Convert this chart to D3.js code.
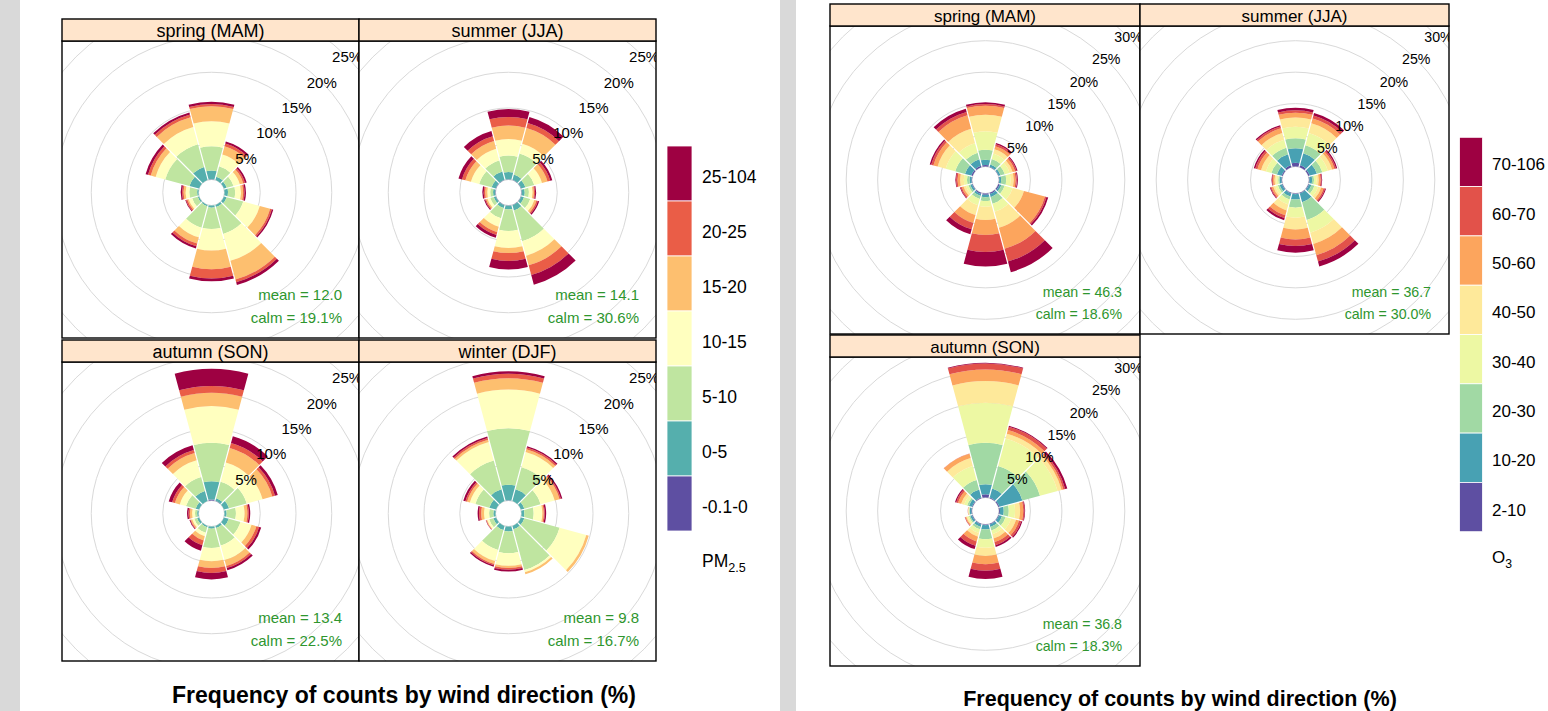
<!DOCTYPE html>
<html>
<head>
<meta charset="utf-8">
<script src="https://cdn.jsdelivr.net/npm/d3@7"></script>
<style>
  body { margin: 0; background: #fff; }
  svg { display: block; font-family: "Liberation Sans", Arial, sans-serif; }
</style>
</head>
<body>
<svg id="chart" width="1548" height="711"></svg>
<script>
// wind direction sectors (degrees, clockwise from north)
const directions = [0, 30, 60, 90, 120, 150, 180, 210, 240, 270, 300, 330];

const pmBins = ['-0.1-0', '0-5', '5-10', '10-15', '15-20', '20-25', '25-104'];
const o3Bins = ['2-10', '10-20', '20-30', '30-40', '40-50', '50-60', '60-70', '70-106'];
const pmColors = ['#5E4FA2', '#55AFAD', '#BFE5A0', '#FFFFBF', '#FDBF6F', '#EA5D47', '#9E0142'];
const o3Colors = ['#5E4FA2', '#48A1B3', '#A1D9A4', '#EDF8A3', '#FEE99A', '#FCA55D', '#E2524A', '#9E0142'];

const pmSeasons = ['spring (MAM)', 'summer (JJA)', 'autumn (SON)', 'winter (DJF)'];
const pmMeans = ['12.0', '14.1', '13.4', '9.8'];
const pmCalms = ['19.1', '30.6', '22.5', '16.7'];
const o3Seasons = ['spring (MAM)', 'summer (JJA)', 'autumn (SON)'];
const o3Means = ['46.3', '36.7', '36.8'];
const o3Calms = ['18.6', '30.0', '18.3'];

const pmGrid = [5, 10, 15, 20, 25, 30, 35];
const o3Grid = [5, 10, 15, 20, 25, 30, 35, 40];

// frequency (%) per direction, one value per concentration bin (low -> high)
const pmSpring = [
  [0.05, 1.2, 3.4, 3.5, 2.1, 0.3, 0.3],
  [0, 0.5, 1.5, 1.7, 1.2, 0.4, 0.3],
  [0, 0.4, 1.0, 0.9, 0.5, 0.25, 0.25],
  [0, 0.5, 1.0, 0.8, 0.3, 0.2, 0.2],
  [0, 0.4, 2.4, 2.4, 1.5, 0.25, 0.2],
  [0, 0.3, 3.9, 3.9, 2.7, 0.4, 0.4],
  [0, 0.3, 3.0, 3.0, 2.6, 1.3, 0.4],
  [0, 0.2, 3.1, 1.4, 0.9, 0.4, 0.3],
  [0, 0.2, 0.8, 0.5, 0.2, 0.2, 0.1],
  [0, 0.2, 1.1, 0.5, 0.3, 0.2, 0.2],
  [0, 1.4, 3.5, 1.4, 0.7, 0.4, 0.35],
  [0, 1.9, 3.3, 2.5, 1.4, 0.4, 0.3]
];
const pmSummer = [
  [0.05, 1.0, 2.3, 2.3, 1.9, 1.2, 1.1],
  [0.05, 0.75, 3.05, 1.4, 2.3, 0.7, 0.9],
  [0.05, 0.6, 1.3, 1.1, 0.8, 0.4, 0.3],
  [0.05, 0.4, 0.6, 0.5, 0.2, 0.15, 0.15],
  [0.05, 0.4, 0.9, 0.6, 0.3, 0.2, 0.2],
  [0.05, 0.75, 4.45, 2.1, 1.4, 1.4, 1.4],
  [0.05, 0.5, 3.0, 2.4, 0.7, 1.1, 1.2],
  [0.05, 0.4, 1.5, 1.2, 0.8, 0.4, 0.4],
  [0.05, 0.3, 0.5, 0.4, 0.2, 0.15, 0.15],
  [0.05, 0.3, 0.4, 0.4, 0.3, 0.2, 0.2],
  [0.05, 0.6, 1.8, 1.2, 0.8, 0.5, 0.5],
  [0.05, 1.2, 1.6, 1.7, 1.1, 0.7, 0.75]
];
const pmAutumn = [
  [0.15, 2.55, 5.37, 5.13, 1.86, 0.94, 2.4],
  [0.05, 0.35, 2.4, 2.8, 2.1, 0.7, 1.0],
  [0, 0.75, 2.55, 2.3, 1.4, 0.4, 0.4],
  [0, 0.3, 1.3, 1.2, 0.4, 0.2, 0.2],
  [0, 0.7, 1.7, 1.6, 0.7, 0.4, 0.3],
  [0, 0.3, 2.55, 2.1, 0.85, 0.3, 0.33],
  [0, 0.3, 2.7, 1.85, 0.95, 0.7, 0.9],
  [0, 0.2, 0.8, 0.5, 0.6, 0.7, 0.8],
  [0, 0.3, 0.4, 0.3, 0.2, 0.1, 0.1],
  [0, 0.2, 0.3, 0.4, 0.3, 0.2, 0.2],
  [0, 0.5, 1.4, 0.9, 0.7, 0.4, 0.5],
  [0, 1.45, 2.05, 2.4, 1.05, 0.45, 0.7]
];
const pmWinter = [
  [0.05, 2.15, 7.9, 5.4, 1.6, 0.6, 0.35],
  [0, 1.7, 3.2, 2.2, 0.4, 0.25, 0.2],
  [0, 0.5, 2.35, 2.05, 0.7, 0.2, 0.2],
  [0, 0.4, 1.3, 1.2, 0.2, 0.15, 0.2],
  [0, 0.5, 5.1, 3.87, 0.36, 0, 0],
  [0, 0.5, 5.9, 0.3, 0.3, 0, 0],
  [0, 0.7, 3.03, 1.77, 0.3, 0.25, 0.25],
  [0, 0.6, 2.9, 1.6, 0.4, 0.2, 0.2],
  [0, 0.4, 0.6, 0.3, 0.1, 0.05, 0.05],
  [0, 0.3, 0.6, 0.7, 0.4, 0.3, 0.2],
  [0, 1.0, 2.0, 0.8, 0.4, 0.25, 0.3],
  [0, 1.7, 4.17, 2.7, 0.33, 0.23, 0.24]
];
const o3Spring = [
  [0.24, 0.84, 1.59, 2.93, 2.64, 1.43, 0.27, 0.26],
  [0.05, 0.4, 0.9, 0.9, 0.7, 0.5, 0.3, 0.2],
  [0.05, 0.3, 0.7, 0.8, 0.5, 0.4, 0.25, 0.15],
  [0.05, 0.3, 0.8, 0.7, 0.5, 0.3, 0.2, 0.15],
  [0.2, 0.3, 0.53, 1.32, 1.86, 3.45, 0.26, 0.28],
  [0.2, 0.5, 1.1, 1.3, 2.65, 3.45, 2.1, 1.75],
  [0.2, 0.4, 0.6, 0.9, 2.1, 2.4, 2.7, 2.3],
  [0.2, 0.3, 0.5, 1.05, 1.6, 1.3, 1.05, 0.8],
  [0.1, 0.3, 0.3, 0.4, 0.4, 0.3, 0.2, 0.1],
  [0.1, 0.3, 0.4, 0.5, 0.6, 0.4, 0.25, 0.1],
  [0.2, 1.06, 1.6, 1.58, 1.32, 0.7, 0.36, 0.24],
  [0.24, 1.06, 1.05, 1.59, 2.39, 2.22, 0.54, 0.53]
];
const o3Summer = [
  [0.6, 2.3, 1.6, 1.8, 1.5, 0.75, 0.4, 0.4],
  [0.3, 2.0, 1.3, 2.0, 1.6, 0.8, 0.5, 0.4],
  [0.2, 1.2, 0.9, 0.9, 0.7, 0.4, 0.25, 0.2],
  [0.1, 0.4, 0.3, 0.4, 0.35, 0.3, 0.15, 0.1],
  [0.1, 0.4, 0.5, 0.6, 0.5, 0.4, 0.25, 0.15],
  [0.1, 1.45, 2.9, 2.1, 1.85, 1.85, 1.05, 0.8],
  [0.1, 0.85, 1.3, 1.6, 1.85, 1.6, 1.05, 1.05],
  [0.1, 0.5, 0.5, 0.8, 1.0, 0.8, 0.45, 0.35],
  [0.1, 0.4, 0.3, 0.4, 0.35, 0.3, 0.15, 0.1],
  [0.1, 0.3, 0.2, 0.3, 0.3, 0.25, 0.15, 0.07],
  [0.15, 0.8, 0.9, 0.9, 0.8, 0.6, 0.35, 0.25],
  [0.3, 1.8, 1.1, 1.3, 1.1, 0.8, 0.3, 0.2]
];
const o3Autumn = [
  [0.5, 1.6, 6.6, 6.35, 3.45, 1.85, 0.95, 0.1],
  [0.1, 1.5, 3.7, 4.5, 0.8, 0.6, 0.55, 0.15],
  [0.15, 3.8, 2.9, 2.9, 0.65, 0.3, 0.3, 0.35],
  [0.15, 0.6, 0.8, 1.0, 0.8, 0.5, 0.2, 0.1],
  [0.1, 0.5, 0.6, 0.9, 0.8, 0.5, 0.35, 0.2],
  [0.1, 0.4, 0.6, 0.6, 0.7, 0.6, 0.5, 0.3],
  [0.1, 0.7, 1.55, 1.35, 1.3, 1.3, 1.05, 1.3],
  [0.1, 0.4, 0.4, 0.6, 0.6, 0.8, 0.7, 0.55],
  [0.1, 0.3, 0.2, 0.25, 0.2, 0.15, 0.07, 0.03],
  [0.1, 0.25, 0.1, 0.1, 0.06, 0.03, 0.02, 0.01],
  [0.1, 0.5, 0.3, 0.5, 0.5, 0.5, 0.3, 0.2],
  [0.1, 1.3, 1.6, 2.3, 1.3, 0.7, 0.05, 0]
];

const svg = d3.select('#chart');

// grey page gutters
svg.append('rect').attr('x', 0).attr('y', 0).attr('width', 20).attr('height', 711).attr('fill', '#d9d9d9');
svg.append('rect').attr('x', 780).attr('y', 0).attr('width', 16).attr('height', 711).attr('fill', '#d9d9d9');

const toRad = Math.PI / 180;
let clipCount = 0;

function drawPanel(cfg, pos, season, series, mean, calm) {
  const g = svg.append('g');
  const bx = pos.x, by = pos.y + cfg.stripH, bw = pos.w, bh = pos.h;
  const cx = bx + cfg.cx, cy = by + cfg.cy;

  const r = d3.scaleLinear().domain([0, 10]).range([cfg.hole, cfg.hole + 10 * cfg.k]);

  const clipId = 'clip' + (clipCount++);
  g.append('clipPath').attr('id', clipId)
    .append('rect').attr('x', bx).attr('y', by).attr('width', bw).attr('height', bh);

  const body = g.append('g').attr('clip-path', `url(#${clipId})`);
  body.append('rect').attr('x', bx).attr('y', by).attr('width', bw).attr('height', bh).attr('fill', '#fff');

  // grid circles
  body.selectAll('circle.grid')
    .data([0, ...cfg.grid])
    .join('circle')
    .attr('cx', cx).attr('cy', cy)
    .attr('r', d => r(d))
    .attr('fill', 'none')
    .attr('stroke', '#d9d9d9')
    .attr('stroke-width', 1);

  // stacked sectors
  const rows = directions.map((dir, i) => {
    const o = { dir };
    cfg.bins.forEach((b, j) => { o[b] = series[i][j]; });
    return o;
  });
  const layers = d3.stack().keys(cfg.bins)(rows);
  const arc = d3.arc()
    .innerRadius(d => r(d[0]))
    .outerRadius(d => r(d[1]))
    .startAngle(d => (d.data.dir - 15) * toRad)
    .endAngle(d => (d.data.dir + 15) * toRad)
    .padRadius(100)
    .padAngle(0.012);

  const rose = body.append('g').attr('transform', `translate(${cx},${cy})`);
  rose.selectAll('g')
    .data(layers)
    .join('g')
    .attr('fill', (d, i) => cfg.colors[i])
    .selectAll('path')
    .data(d => d.filter(s => s[1] - s[0] > 0))
    .join('path')
    .attr('d', arc);

  // percentage labels (only those that land inside the panel)
  const labels = cfg.grid.filter(d => cy - r(d) * Math.SQRT1_2 > by + 6);
  body.selectAll('text.pct')
    .data(labels)
    .join('text')
    .attr('x', d => cx + r(d) * Math.SQRT1_2)
    .attr('y', d => cy - r(d) * Math.SQRT1_2)
    .attr('text-anchor', 'middle')
    .attr('dominant-baseline', 'central')
    .attr('font-size', cfg.pctSize)
    .attr('fill', '#000')
    .text(d => d + '%');

  body.append('text')
    .attr('x', bx + bw - cfg.statInset).attr('y', by + bh - cfg.meanUp)
    .attr('text-anchor', 'end').attr('dominant-baseline', 'central')
    .attr('font-size', cfg.pctSize).attr('fill', '#2e962e')
    .text(`mean = ${mean}`);
  body.append('text')
    .attr('x', bx + bw - cfg.statInset).attr('y', by + bh - cfg.calmUp)
    .attr('text-anchor', 'end').attr('dominant-baseline', 'central')
    .attr('font-size', cfg.pctSize).attr('fill', '#2e962e')
    .text(`calm = ${calm}%`);

  // frame + strip
  g.append('rect').attr('x', bx).attr('y', by).attr('width', bw).attr('height', bh)
    .attr('fill', 'none').attr('stroke', '#000').attr('stroke-width', 1.4);
  g.append('rect').attr('x', pos.x).attr('y', pos.y).attr('width', bw).attr('height', cfg.stripH)
    .attr('fill', '#FFE5CC').attr('stroke', '#000').attr('stroke-width', 1.4);
  g.append('text')
    .attr('x', pos.x + bw / 2).attr('y', pos.y + cfg.stripH / 2 + 1)
    .attr('text-anchor', 'middle').attr('dominant-baseline', 'central')
    .attr('font-size', cfg.stripSize).attr('fill', '#000')
    .text(season);
}

function drawLegend(cfg) {
  const L = cfg.legend;
  const n = cfg.bins.length;
  const g = svg.append('g');
  const order = d3.range(n).reverse();
  g.selectAll('rect')
    .data(order)
    .join('rect')
    .attr('x', L.x).attr('y', (d, i) => L.y + i * L.h)
    .attr('width', L.w).attr('height', L.h)
    .attr('fill', d => cfg.colors[d])
    .attr('stroke', '#fff').attr('stroke-width', 0.8);
  g.selectAll('text.lab')
    .data(order)
    .join('text')
    .attr('x', L.tx).attr('y', (d, i) => L.y + i * L.h + L.h / 2 + 3)
    .attr('dominant-baseline', 'central')
    .attr('font-size', L.size).attr('fill', '#000')
    .text(d => cfg.bins[d]);
  const t = g.append('text').attr('x', L.tx).attr('y', L.nameY)
    .attr('font-size', L.size).attr('fill', '#000');
  t.append('tspan').text(L.name);
  t.append('tspan').attr('font-size', L.size * 0.72).attr('dy', 5).text(L.sub);
}

const pmCfg = {
  bins: pmBins, colors: pmColors, grid: pmGrid,
  hole: 13, k: 7.15, cx: 149.5, cy: 151.5, stripH: 22,
  pctSize: 15, stripSize: 18, statInset: 17, meanUp: 44, calmUp: 21,
  legend: { x: 667, y: 146, w: 25, h: 55, tx: 702, size: 17.5, name: 'PM', sub: '2.5', nameY: 567 }
};
const pmPanels = [
  { x: 62, y: 19, w: 297, h: 297 },
  { x: 359, y: 19, w: 297, h: 297 },
  { x: 62, y: 340, w: 297, h: 299 },
  { x: 359, y: 340, w: 297, h: 299 }
];
const pmSeries = [pmSpring, pmSummer, pmAutumn, pmWinter];
pmPanels.forEach((p, i) => drawPanel(pmCfg, p, pmSeasons[i], pmSeries[i], pmMeans[i], pmCalms[i]));
drawLegend(pmCfg);

const o3Cfg = {
  bins: o3Bins, colors: o3Colors, grid: o3Grid,
  hole: 13.5, k: 6.29, cx: 155.5, cy: 154, stripH: 22,
  pctSize: 14.2, stripSize: 17, statInset: 18, meanUp: 42, calmUp: 20,
  legend: { x: 1459.5, y: 137.3, w: 23, h: 49.3, tx: 1492, size: 17, name: 'O', sub: '3', nameY: 563 }
};
const o3Panels = [
  { x: 830, y: 4, w: 310, h: 308 },
  { x: 1140, y: 4, w: 309, h: 308 },
  { x: 830, y: 335, w: 310, h: 309 }
];
const o3Series = [o3Spring, o3Summer, o3Autumn];
o3Panels.forEach((p, i) => drawPanel(o3Cfg, p, o3Seasons[i], o3Series[i], o3Means[i], o3Calms[i]));
drawLegend(o3Cfg);

// titles
svg.append('text').attr('x', 404).attr('y', 703)
  .attr('text-anchor', 'middle').attr('font-size', 23).attr('font-weight', 'bold')
  .text('Frequency of counts by wind direction (%)');
svg.append('text').attr('x', 1180).attr('y', 706)
  .attr('text-anchor', 'middle').attr('font-size', 21.5).attr('font-weight', 'bold')
  .text('Frequency of counts by wind direction (%)');
</script>
</body>
</html>
